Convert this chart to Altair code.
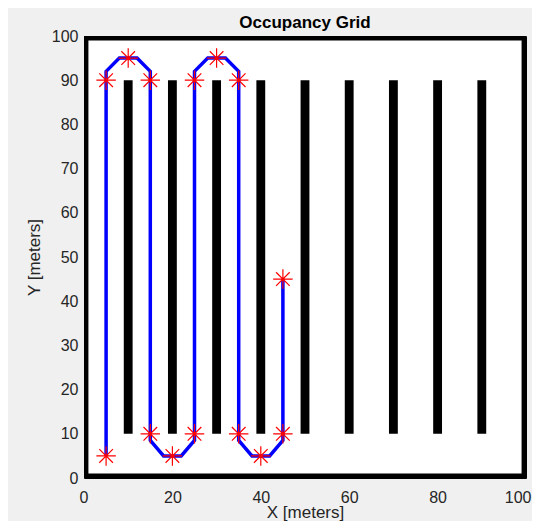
import altair as alt
import pandas as pd

# Obstacles (vertical shelves): center x, bottom y, top y, width
shelf_x = [10, 20, 30, 40, 50, 60, 70, 80, 90]
shelf_y0 = 10
shelf_y1 = 90
shelf_w = 2

# Map boundary cells
border_x0 = [0, 99, 0, 0]
border_x1 = [1, 100, 100, 100]
border_y0 = [0, 0, 0, 99]
border_y1 = [100, 100, 1, 100]

# Waypoints (red stars)
wp_x = [5, 5, 10, 15, 15, 20, 25, 25, 30, 35, 35, 40, 45, 45]
wp_y = [5, 90, 95, 90, 10, 5, 10, 90, 95, 90, 10, 5, 10, 45]

# Smoothed path (blue)
path_x = [5, 5, 8, 12, 15, 15, 18, 22, 25, 25, 28, 32, 35, 35, 38, 42, 45, 45]
path_y = [5, 92, 95, 95, 92, 8.5, 5, 5, 8.5, 92, 95, 95, 92, 8.5, 5, 5, 8.5, 45]

shelves = pd.DataFrame({
    "x0": [x - shelf_w / 2 for x in shelf_x],
    "x1": [x + shelf_w / 2 for x in shelf_x],
    "y0": [shelf_y0] * len(shelf_x),
    "y1": [shelf_y1] * len(shelf_x),
})
borders = pd.DataFrame({"x0": border_x0, "x1": border_x1, "y0": border_y0, "y1": border_y1})
walls = pd.concat([shelves, borders], ignore_index=True)
wps = pd.DataFrame({"x": wp_x, "y": wp_y})
path = pd.DataFrame({"x": path_x, "y": path_y, "order": list(range(len(path_x)))})

font = "Liberation Sans"
xs = alt.Scale(domain=[0, 100], nice=False)
ys = alt.Scale(domain=[0, 100], nice=False)

xaxis = alt.Axis(values=[0, 20, 40, 60, 80, 100], title="X [meters]", grid=False,
                 ticks=False, domain=False, labelFontSize=16, labelColor="#262626",
                 labelFont=font, titleFont=font, titleFontSize=17, titleFontWeight="normal",
                 titleColor="#262626", labelPadding=11, titlePadding=-1,
                 labelFlush=True, labelFlushOffset=5)
yaxis = alt.Axis(values=list(range(0, 101, 10)), title="Y [meters]", grid=False,
                 ticks=False, domain=False, labelFontSize=16, labelColor="#262626",
                 labelFont=font, titleFont=font, titleFontSize=17, titleFontWeight="normal",
                 titleColor="#262626", labelPadding=6, titlePadding=8, labelFlush=False)

rects = alt.Chart(walls).mark_rect(color="black").encode(
    x=alt.X("x0:Q", scale=xs, axis=xaxis),
    x2="x1:Q",
    y=alt.Y("y0:Q", scale=ys, axis=yaxis),
    y2="y1:Q",
)

line = alt.Chart(path).mark_line(color="#0000ff", strokeWidth=3.5).encode(
    x=alt.X("x:Q", scale=xs),
    y=alt.Y("y:Q", scale=ys),
    order="order:Q",
)

star = "M-1,0L1,0M0,-1L0,1M-0.7,-0.7L0.7,0.7M-0.7,0.7L0.7,-0.7"
points = alt.Chart(wps).mark_point(shape=star, color="#ff0000", filled=False,
                                   strokeWidth=1.2, size=380, opacity=1).encode(
    x=alt.X("x:Q", scale=xs),
    y=alt.Y("y:Q", scale=ys),
)

chart = alt.layer(rects, line, points).properties(
    width=442, height=442,
    autosize="none",
    padding={"left": 76, "top": 28, "right": 6, "bottom": 43},
    background="#f0f0f0",
    title=alt.TitleParams("Occupancy Grid", font=font, fontSize=17, fontWeight="bold",
                          color="black", offset=-4),
).configure_view(fill="white", stroke="black", strokeWidth=1)

chart.save("out.html", embed_options={"renderer": "svg", "actions": False})
